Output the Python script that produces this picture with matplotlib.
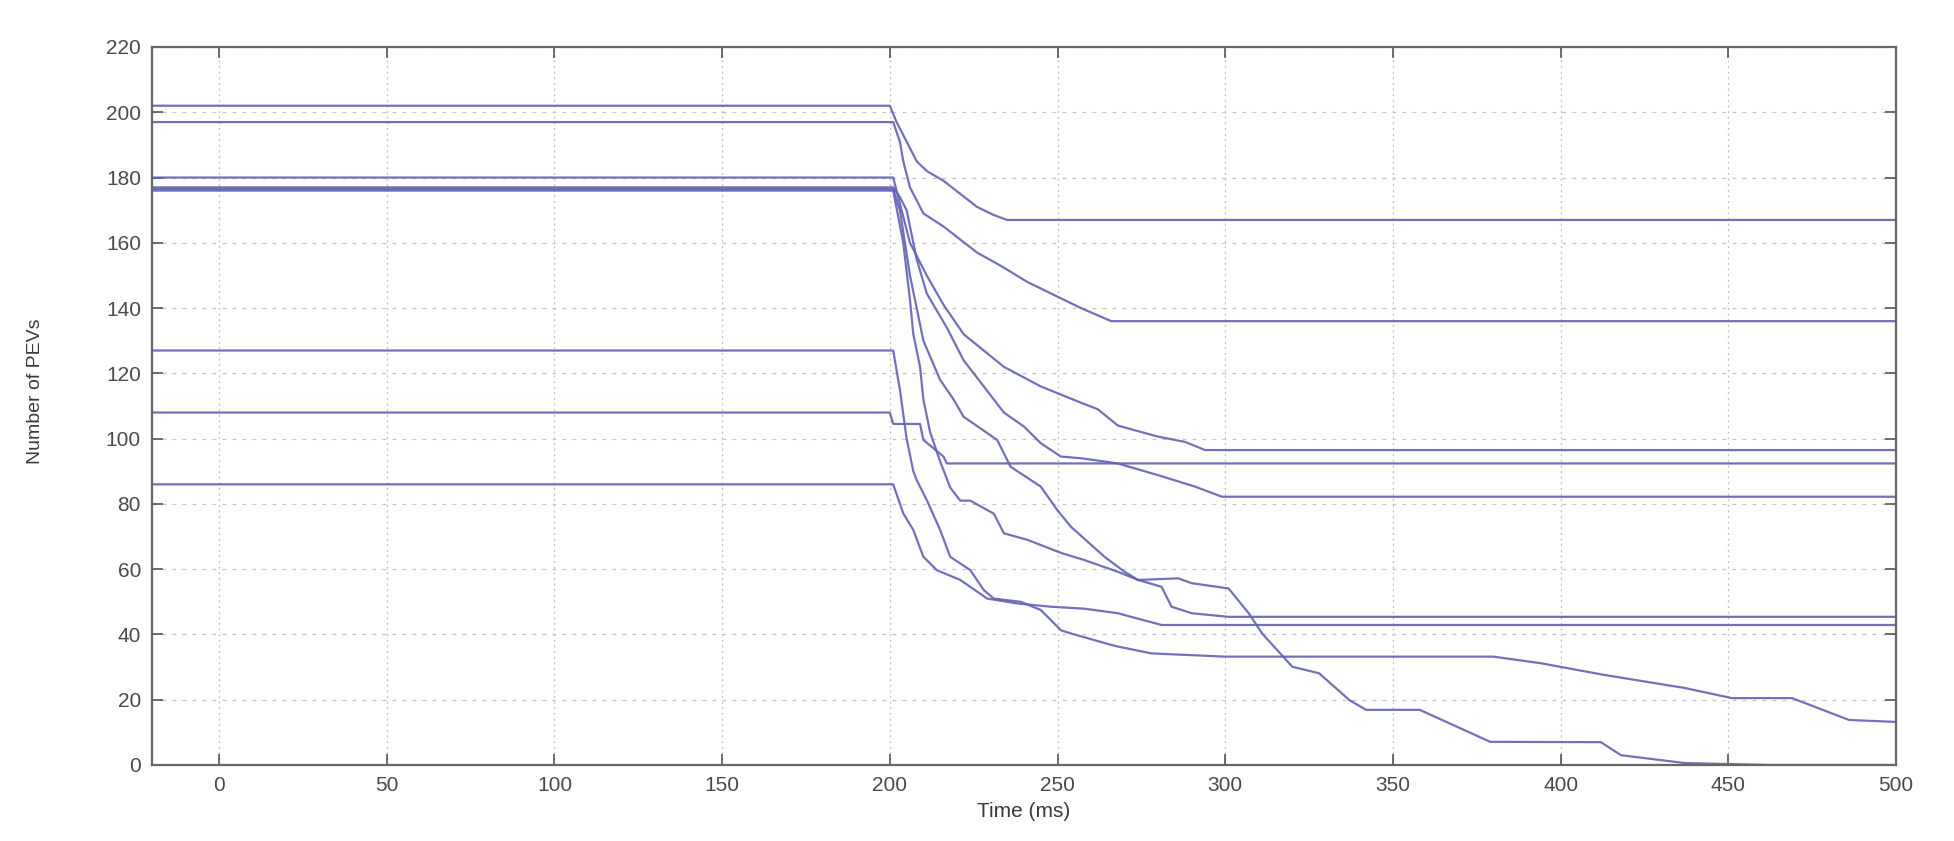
import matplotlib.pyplot as plt

# PEV count traces (time in ms, number of PEVs)
t1 = [-20, 200, 202, 206, 208, 211, 216, 221, 226, 231, 235, 500]
n1 = [202, 202, 197, 189, 185, 182, 179, 175, 171, 168.5, 167, 167]

t2 = [-20, 201, 203, 204, 206, 210, 216, 221, 226, 233, 241, 251, 257, 266, 500]
n2 = [197, 197, 191, 185, 177, 169, 165, 161, 157, 153, 148, 143, 140, 136, 136]

t3 = [-20, 201, 203, 206, 211, 216, 222, 228, 234, 245, 257, 262, 268, 280, 288, 294, 500]
n3 = [180, 180, 172, 160, 150, 141, 132, 127, 122, 116, 111, 109, 104, 100.6, 99, 96.5, 96.5]

t4 = [-20, 201, 203, 205, 208, 211, 217, 222, 228, 234, 240, 245, 251, 257, 268, 280, 291, 299, 500]
n4 = [177, 177, 174, 170, 155, 144.5, 134, 124, 116, 108, 103.7, 98.6, 94.5, 94, 92.4, 88.8, 85.3, 82.2, 82.2]

t5 = [-20, 201, 203, 206, 210, 215, 219, 222, 232, 236, 245, 250, 254, 264, 270, 274, 281, 284, 290, 301, 500]
n5 = [176.5, 176.5, 170, 150, 130, 118, 112, 106.7, 99.6, 91.4, 85.3, 78, 73, 63.8, 59.2, 56.7, 54.6, 48.5, 46.5, 45.4, 45.4]

t6 = [-20, 201, 204, 206, 207, 209, 210, 212, 215, 218, 221, 224, 231, 234, 241, 251, 258, 268, 274,
      286, 290, 301, 307, 311, 320, 328, 337, 342, 358, 379, 412, 418, 437, 463, 500]
n6 = [176, 176, 160, 142.5, 132, 122, 112, 102, 93, 85, 81, 81, 77, 71, 69, 65, 62.8, 59.2, 56.7,
      57.2, 55.7, 54.1, 46.5, 40.3, 30.1, 28.1, 19.9, 16.9, 16.9, 7.1, 7, 3, 0.6, 0, 0]

t7 = [-20, 200, 201, 209, 210, 216, 217, 500]
n7 = [108, 108, 104.5, 104.5, 99.6, 94.5, 92.4, 92.4]

t8 = [-20, 201, 203, 205, 207, 208, 211, 215, 218, 224, 228, 231, 239, 245, 251, 254, 266, 268, 278,
      300, 380, 394, 413, 437, 451, 469, 486, 500]
n8 = [127, 127, 115, 100, 90, 87.3, 81.2, 72, 63.8, 59.7, 53.6, 51, 50, 47.5, 41.3, 40.3, 36.8, 36.3, 34.2,
      33.2, 33.2, 31.2, 27.6, 23.6, 20.5, 20.5, 13.8, 13.2]

t9 = [-20, 200, 201, 204, 207, 210, 214, 221, 229, 238, 248, 258, 268, 281, 500]
n9 = [86, 86, 86, 77.1, 72, 63.8, 59.7, 56.7, 51, 49.5, 48.5, 47.9, 46.5, 42.9, 42.9]

traces = [(t1, n1), (t2, n2), (t3, n3), (t4, n4), (t5, n5), (t6, n6), (t7, n7), (t8, n8), (t9, n9)]

xticks = list(range(0, 501, 50))
yticks = list(range(0, 221, 20))

plt.rcParams['font.family'] = ['Liberation Sans', 'DejaVu Sans']

fig = plt.figure(figsize=(19.54, 8.41), dpi=100)
ax = fig.add_axes([152 / 1954, 1 - 765 / 841, (1896 - 152) / 1954, (765 - 47) / 841])

for t, n in traces:
    ax.plot(t, n, color='#6262b4', lw=1.6, alpha=0.9)

ax.set_xlim(-20, 500)
ax.set_ylim(0, 220)
ax.set_xticks(xticks)
ax.set_yticks(yticks)

ax.xaxis.grid(True, linestyle=(0, (1.5, 3)), color='#bdbdbd', lw=0.9)
ax.yaxis.grid(True, linestyle=(0, (3, 5)), color='#c4c4c4', lw=0.9)

ax.tick_params(direction='in', length=8, width=1.2, colors='#555555', labelcolor='#4a4a4a',
               labelsize=15, top=True, right=True, pad=8)
for s in ax.spines.values():
    s.set_color('#666666')
    s.set_linewidth(1.6)

ax.set_xlabel('Time (ms)', fontsize=15, color='#3a3a3a')
ax.set_ylabel('Number of PEVs', fontsize=14, color='#3a3a3a',
              family=['Liberation Sans Narrow', 'Liberation Sans', 'DejaVu Sans'])
ax.xaxis.set_label_coords(0.5, -0.052)
ax.yaxis.set_label_coords(-0.062, 0.52)

fig.savefig('out.png', dpi=100)
